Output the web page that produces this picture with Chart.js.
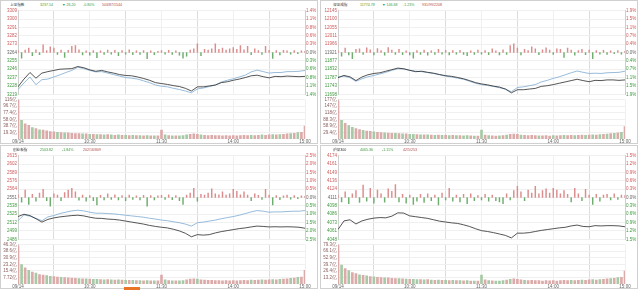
<!DOCTYPE html>
<html>
<head>
<meta charset="utf-8">
<script src="https://cdn.jsdelivr.net/npm/chart.js@4.4.1/dist/chart.umd.min.js"></script>
<style>
  body { margin: 0; width: 640px; height: 290px; overflow: hidden; position: relative; background: #fff;
         font-family: "Liberation Sans", "Noto Sans CJK SC", sans-serif; }
  .panel { position: absolute; width: 318px; height: 144px; box-shadow: inset 0 0 0 1px #d0d0d0; }
  .panel canvas { position: absolute; left: 0; }
  .head { position: absolute; top: 2px; left: 0; width: 318px; height: 6px; font-size: 3.6px; line-height: 6px; white-space: nowrap; }
  .head span { position: absolute; top: 0; }
  .mark { position: absolute; left: 124px; top: 287px; width: 16px; height: 3px; background: #e8742a; z-index: 5; }
</style>
</head>
<body>
<script>
const timeLabels = ['09/14', '10:30', '11:30', '14:00', '15:00'];
const gridMinutes = [0, 30, 60, 90, 120, 150, 180, 210, 240];

// 上证指数 (lines: % change, every 5 min; flow and volume: every 3 min)
const shPrevClose = 3263.74;
const shRange = 1.4;
const shIndex = [-1.15, -0.89, -0.67, -0.86, -0.69, -0.64, -0.60, -0.56, -0.55, -0.54,
  -0.47, -0.51, -0.58, -0.63, -0.60, -0.65, -0.69, -0.74, -0.77, -0.78,
  -0.82, -0.87, -0.93, -1.01, -1.04, -1.07, -1.11, -1.14, -1.20, -1.29,
  -1.15, -1.15, -1.12, -1.09, -1.01, -0.98, -0.93, -0.89, -0.84, -0.78,
  -0.76, -0.81, -0.85, -0.80, -0.81, -0.79, -0.80, -0.81, -0.80];
const shEqual = [-1.24, -1.02, -0.82, -1.08, -0.91, -0.89, -0.82, -0.75, -0.67, -0.60,
  -0.49, -0.54, -0.60, -0.65, -0.64, -0.69, -0.74, -0.79, -0.84, -0.86,
  -0.89, -0.95, -1.01, -1.09, -1.13, -1.15, -1.20, -1.24, -1.29, -1.35,
  -1.22, -1.19, -1.14, -1.09, -0.99, -0.93, -0.88, -0.82, -0.76, -0.65,
  -0.59, -0.64, -0.69, -0.67, -0.67, -0.64, -0.64, -0.63, -0.60];
const shFlow = [6, -18, 8, 14, -10, 9, -7, 25, 6, 18, 14, -6, 8, -16, 7, 20, 22, 9, -8, 5,
  -9, 6, -17, 5, -6, 8, -5, 7, -10, 6, -5, 9, -7, 5, -6, 6, -20, 5, -7, 4,
  6, -5, 7, -6, 5, -9, -18, -12, 8, 12, 28, -10, 10, 8, 12, 28, 10, 14, 8, 12,
  16, 10, 22, 9, 20, -7, 12, 6, -6, 20, 7, -19, 6, -8, 7, 5, -5, 6, -4, 5, 4];
const shVolume = [115, 55, 45, 40, 34, 31, 27, 26, 24, 22, 21, 20, 19, 18, 18, 17, 16, 16, 15, 15,
  14, 14, 13, 13, 12, 13, 12, 11, 12, 11, 11, 10, 11, 10, 10, 9, 10, 9, 9, 9,
  26, 12, 10, 9, 9, 9, 10, 12, 14, 15, 14, 12, 11, 10, 11, 10, 10, 9, 10, 9,
  10, 9, 10, 11, 10, 11, 10, 11, 12, 11, 12, 13, 12, 13, 14, 15, 16, 17, 19, 20, 38];
const shPriceTicks = ['3309', '3300', '3291', '3282', '3273', '3264', '3255', '3246', '3237', '3228', '3219'];
const shPctTicks = ['1.4%', '1.1%', '0.8%', '0.6%', '0.3%', '0.0%', '0.3%', '0.6%', '0.8%', '1.1%', '1.4%'];
const shVolMax = 116;
const shVolTicks = ['116亿', '96.7亿', '77.4亿', '58.0亿', '38.7亿', '19.3亿'];

// 深证成指
const szPrevClose = 11921.46;
const szRange = 1.875;
const szIndex = [-1.13, -1.03, -1.09, -1.26, -1.10, -1.00, -0.94, -0.91, -0.84, -0.77,
  -0.70, -0.73, -0.80, -0.86, -0.84, -0.89, -0.93, -0.99, -1.04, -1.07,
  -1.12, -1.18, -1.26, -1.35, -1.41, -1.45, -1.51, -1.55, -1.64, -1.81,
  -1.67, -1.67, -1.64, -1.61, -1.52, -1.49, -1.44, -1.38, -1.32, -1.26,
  -1.20, -1.26, -1.31, -1.25, -1.26, -1.23, -1.23, -1.25, -1.23];
const szEqual = [-1.09, -1.06, -1.13, -1.29, -1.18, -1.09, -1.03, -0.96, -0.89, -0.80,
  -0.73, -0.74, -0.80, -0.84, -0.86, -0.90, -0.94, -1.00, -1.06, -1.10,
  -1.15, -1.20, -1.29, -1.38, -1.44, -1.48, -1.52, -1.58, -1.64, -1.76,
  -1.57, -1.54, -1.49, -1.44, -1.32, -1.25, -1.16, -1.09, -1.00, -0.91,
  -0.83, -0.89, -0.94, -0.93, -0.94, -0.91, -0.90, -0.89, -0.84];
const szFlow = [5, -12, 14, -8, -20, 10, 12, -6, 15, 9, -8, 13, 6, -9, 16, 8, -6, 10, -7, 5,
  -8, -18, 6, -6, 8, -9, 5, -6, 10, -5, 7, -8, 6, -5, 7, -6, -10, 5, -6, 8,
  -5, 6, -7, 12, 5, -8, 9, -6, 22, 28, 14, -8, 10, 6, 18, 12, -7, 9, 15, 8,
  -6, 12, 10, -16, 14, 8, -9, 6, 10, -7, 8, -20, 6, -5, 7, -6, 5, -4, 6, -5, 4];
const szVolume = [172, 84, 70, 60, 52, 47, 42, 39, 36, 34, 32, 30, 29, 28, 27, 26, 25, 24, 23, 23,
  21, 21, 20, 19, 19, 19, 18, 17, 18, 16, 16, 15, 16, 15, 15, 14, 15, 14, 13, 13,
  40, 18, 15, 14, 13, 14, 15, 18, 21, 22, 21, 18, 17, 15, 16, 15, 14, 14, 15, 13,
  15, 14, 15, 16, 15, 16, 15, 17, 18, 17, 18, 19, 18, 20, 21, 22, 24, 26, 28, 30, 56];
const szPriceTicks = ['12145', '12100', '12055', '12011', '11966', '11921', '11877', '11832', '11787', '11743', '11698'];
const szPctTicks = ['1.9%', '1.5%', '1.1%', '0.7%', '0.4%', '0.0%', '0.4%', '0.7%', '1.1%', '1.5%', '1.9%'];
const szVolMax = 176.6;
const szVolTicks = ['177亿', '147亿', '118亿', '88.3亿', '58.9亿', '29.4亿'];

// 创业板指
const cyPrevClose = 2550.7;
const cyRange = 2.5;
const cyIndex = [-1.14, -1.00, -1.08, -1.27, -1.47, -1.31, -1.22, -1.16, -1.12, -1.08,
  -1.06, -1.10, -1.18, -1.24, -1.25, -1.29, -1.31, -1.35, -1.41, -1.47,
  -1.53, -1.59, -1.67, -1.73, -1.78, -1.82, -1.90, -2.00, -2.14, -2.35,
  -2.22, -2.25, -2.22, -2.12, -2.04, -1.98, -1.92, -1.86, -1.82, -1.76,
  -1.71, -1.73, -1.76, -1.75, -1.76, -1.75, -1.76, -1.78, -1.84];
const cyEqual = [-1.39, -1.04, -1.12, -1.24, -1.39, -1.16, -1.08, -0.96, -0.88, -0.80,
  -0.76, -0.80, -0.88, -0.94, -0.94, -0.96, -0.98, -1.02, -1.06, -1.10,
  -1.14, -1.18, -1.24, -1.29, -1.35, -1.39, -1.45, -1.51, -1.59, -1.71,
  -1.51, -1.47, -1.41, -1.35, -1.27, -1.20, -1.14, -1.06, -0.96, -0.86,
  -0.78, -0.82, -0.88, -0.86, -0.86, -0.84, -0.82, -0.82, -0.78];
const cyFlow = [8, -15, 24, -22, 10, -12, 14, 26, -10, -28, 12, 8, -10, 16, 24, 30, 18, -9, 8, -12,
  6, -10, -24, 7, -8, 12, -6, 9, -8, 6, -10, 8, -6, 5, -8, 7, -28, 6, -8, 5,
  7, -6, 9, -7, 6, -10, -22, 8, 14, 30, -12, 10, 8, 14, 28, 12, 9, 18, 8, 12,
  26, 20, 9, 18, 8, -10, 12, 7, -6, 26, 8, -24, 6, -7, 5, 8, -5, 6, -4, 5, 4];
const cyVolume = [45, 23, 19, 16, 14, 13, 11, 10.5, 10, 9, 8.6, 8.2, 7.8, 7.5, 7.2, 7, 6.6, 6.5, 6.2, 6,
  5.8, 5.6, 5.4, 5.3, 5, 5.2, 4.9, 4.6, 4.8, 4.5, 4.4, 4.2, 4.4, 4.1, 4, 3.8, 4, 3.7, 3.6, 3.6,
  10.5, 5, 4.1, 3.8, 3.6, 3.7, 4.1, 5, 5.8, 6.1, 5.7, 5, 4.5, 4.2, 4.4, 4.1, 4, 3.8, 4, 3.7,
  4.1, 3.8, 4, 4.4, 4.1, 4.5, 4.2, 4.6, 5, 4.6, 5, 5.3, 5, 5.4, 5.8, 6.2, 6.6, 7, 7.8, 8.2, 16];
const cyPriceTicks = ['2615', '2602', '2589', '2576', '2564', '2551', '2538', '2525', '2512', '2499', '2486'];
const cyPctTicks = ['2.5%', '2.0%', '1.5%', '1.0%', '0.5%', '0.0%', '0.5%', '1.0%', '1.5%', '2.0%', '2.5%'];
const cyVolMax = 46.3;
const cyVolTicks = ['46.3亿', '38.6亿', '30.9亿', '23.2亿', '15.4亿', '7.72亿'];

// 沪深300
const hsPrevClose = 4111;
const hsRange = 1.5;
const hsIndex = [-1.15, -0.84, -0.80, -0.95, -0.84, -0.78, -0.74, -0.72, -0.73, -0.67,
  -0.55, -0.56, -0.66, -0.69, -0.72, -0.75, -0.80, -0.85, -0.88, -0.91,
  -0.93, -0.98, -1.04, -1.12, -1.19, -1.22, -1.26, -1.31, -1.36, -1.45,
  -1.28, -1.28, -1.26, -1.22, -1.18, -1.15, -1.12, -1.09, -1.07, -1.02,
  -0.99, -1.04, -1.05, -1.01, -1.02, -1.01, -1.01, -1.02, -1.05];
const hsFlow = [6, -14, 18, -20, 12, 22, -16, 40, -12, 30, -18, 24, 12, -15, 28, 20, 42, -14, 10, -18,
  8, -22, -12, 10, -16, 12, -10, 8, -24, 14, -8, 30, -12, 8, -14, 10, -20, 12, -10, 6,
  -8, 10, -12, 8, -10, -14, -20, 12, -8, 22, 36, 18, -10, 24, 14, 36, 12, 22, 28, 14,
  30, 24, 12, 22, 10, -14, 30, 12, -10, 26, 8, -22, 10, -12, 8, 10, -8, 12, -6, 8, 6];
const hsVolume = [78, 38, 31, 27, 23, 21, 18.5, 17.5, 16.5, 15, 14.4, 13.6, 13, 12.4, 12.2, 11.6, 11, 10.8, 10.2, 10,
  9.6, 9.4, 8.9, 8.8, 8.2, 8.8, 8.1, 7.6, 8.1, 7.5, 7.4, 6.9, 7.4, 6.8, 6.7, 6.2, 6.8, 6.1, 6, 6.1,
  18, 8.2, 6.8, 6.2, 6, 6.1, 6.8, 8.1, 9.5, 10.2, 9.5, 8.2, 7.5, 6.8, 7.4, 6.8, 6.7, 6.1, 6.8, 6.2,
  6.8, 6.1, 6.8, 7.4, 6.8, 7.5, 6.8, 7.5, 8.1, 7.4, 8.2, 8.8, 8.1, 8.9, 9.5, 10.2, 10.8, 11.6, 12.9, 13.6, 26];
const hsPriceTicks = ['4174', '4161', '4149', '4136', '4124', '4111', '4098', '4086', '4073', '4061', '4048'];
const hsPctTicks = ['1.5%', '1.2%', '0.9%', '0.6%', '0.3%', '0.0%', '0.3%', '0.6%', '0.9%', '1.2%', '1.5%'];
const hsVolMax = 79.3;
const hsVolTicks = ['79.3亿', '66.1亿', '52.9亿', '39.7亿', '26.4亿', '13.2亿'];

const red = '#cf5a5a', green = '#3e9a3e', grey = '#666';
const spikeRed = '#dc8c8c', spikeGreen = '#6fae6f';
const tickFont = { family: 'Liberation Sans', size: 4.5 };

const panels = [
  { left: 0, top: 0, prev: shPrevClose, range: shRange, index: shIndex, equal: shEqual, flow: shFlow,
    volume: shVolume, priceTicks: shPriceTicks, pctTicks: shPctTicks, volMax: shVolMax, volTicks: shVolTicks,
    head: [['上证指数', 10, '#333'], ['3237.54', 40, green], ['▼ 26.20', 62, green], ['-0.80%', 83, green], ['503/87/1544', 102, '#b04a4a']] },
  { left: 320, top: 0, prev: szPrevClose, range: szRange, index: szIndex, equal: szEqual, flow: szFlow,
    volume: szVolume, priceTicks: szPriceTicks, pctTicks: szPctTicks, volMax: szVolMax, volTicks: szVolTicks,
    head: [['深证成指', 13, '#333'], ['11774.78', 40, green], ['▼ 146.68', 62, green], ['-1.23%', 83, green], ['931/99/2208', 102, '#b04a4a']] },
  { left: 0, top: 145, prev: cyPrevClose, range: cyRange, index: cyIndex, equal: cyEqual, flow: cyFlow,
    volume: cyVolume, priceTicks: cyPriceTicks, pctTicks: cyPctTicks, volMax: cyVolMax, volTicks: cyVolTicks,
    head: [['创业板指', 13, '#333'], ['2503.82', 40, green], ['-1.84%', 62, green], ['202/16/809', 83, '#b04a4a']] },
  { left: 320, top: 145, prev: hsPrevClose, range: hsRange, index: hsIndex, equal: null, flow: hsFlow,
    volume: hsVolume, priceTicks: hsPriceTicks, pctTicks: hsPctTicks, volMax: hsVolMax, volTicks: hsVolTicks,
    head: [['沪深300', 13, '#333'], ['4065.36', 40, green], ['-1.11%', 62, green], ['42/5/253', 83, '#b04a4a']] }
];

// ticks spread evenly from max down to min, one per label
function evenTicks(count) {
  return scale => {
    const step = (scale.max - scale.min) / (count - 1);
    scale.ticks = Array.from({ length: count }, (_, i) => ({ value: scale.max - i * step }));
  };
}
function sideColor(ctx) {
  if (ctx.index < 5) return red;
  if (ctx.index === 5) return grey;
  return green;
}
const timeTicks = scale => { scale.ticks = gridMinutes.map(v => ({ value: v })); };
const xGridColor = ctx => (ctx.tick && ctx.tick.value % 60 === 0 ? '#f0f0f0' : '#dcdcdc');

function makeCanvas(box, top, height) {
  const c = document.createElement('canvas');
  c.width = 318; c.height = height;
  c.style.width = '318px'; c.style.height = height + 'px'; c.style.top = top + 'px';
  box.appendChild(c);
  return c;
}

function buildPanel(p) {
  const box = document.createElement('div');
  box.className = 'panel';
  box.style.left = p.left + 'px';
  box.style.top = p.top + 'px';
  document.body.appendChild(box);

  const head = document.createElement('div');
  head.className = 'head';
  p.head.forEach(([text, x, color]) => {
    const s = document.createElement('span');
    s.textContent = text;
    s.style.left = x + 'px';
    s.style.color = color;
    head.appendChild(s);
  });
  box.appendChild(head);

  const datasets = [
    { data: p.index.map((v, i) => ({ x: i * 5, y: v })), yAxisID: 'yp', borderColor: '#2a2a2a', borderWidth: 0.8, pointRadius: 0 }
  ];
  if (p.equal) {
    datasets.push({ data: p.equal.map((v, i) => ({ x: i * 5, y: v })), yAxisID: 'yp', borderColor: '#7eaad0', borderWidth: 0.8, pointRadius: 0 });
  }
  datasets.push({
    type: 'bar', data: p.flow.map((v, i) => ({ x: i * 3, y: v })), yAxisID: 'ys', barThickness: 0.8,
    backgroundColor: ctx => (ctx.raw && ctx.raw.y >= 0 ? spikeRed : spikeGreen)
  });

  new Chart(makeCanvas(box, 7, 91), {
    type: 'line',
    data: { datasets },
    options: {
      responsive: false, animation: false, devicePixelRatio: 1,
      layout: { padding: { top: 3, bottom: 3, left: 0, right: 0 } },
      plugins: { legend: { display: false }, tooltip: { enabled: false } },
      scales: {
        x: {
          type: 'linear', min: 0, max: 240, offset: false,
          afterBuildTicks: timeTicks, afterFit: s => { s.height = 0; },
          ticks: { display: false }, grid: { color: xGridColor, drawTicks: false, offset: false }, border: { display: false }
        },
        y: {
          position: 'left', min: p.prev * (1 - p.range / 100), max: p.prev * (1 + p.range / 100),
          afterBuildTicks: evenTicks(p.priceTicks.length), afterFit: s => { s.width = 18; },
          ticks: { autoSkip: false, font: tickFont, padding: 1, color: sideColor, callback: (v, i) => p.priceTicks[i] },
          grid: { color: '#f0f0f0', drawTicks: false }, border: { color: '#cfcfcf' }
        },
        yp: {
          position: 'right', min: -p.range, max: p.range,
          afterBuildTicks: evenTicks(p.pctTicks.length), afterFit: s => { s.width = 13; },
          ticks: { autoSkip: false, font: tickFont, padding: 1, color: sideColor, callback: (v, i) => p.pctTicks[i] },
          grid: { display: false, drawTicks: false }, border: { color: '#cfcfcf' }
        },
        ys: { display: false, min: -135, max: 135 }
      }
    }
  });

  new Chart(makeCanvas(box, 96, 48), {
    type: 'bar',
    data: {
      datasets: [{
        data: p.volume.map((v, i) => ({ x: i * 3, y: v })), barThickness: 2,
        backgroundColor: ctx => (p.flow[ctx.dataIndex] >= 0 ? '#ddaaaa' : '#a6c9a6')
      }]
    },
    options: {
      responsive: false, animation: false, devicePixelRatio: 1,
      layout: { padding: { top: 3, bottom: 0, left: 0, right: 13 } },
      plugins: { legend: { display: false }, tooltip: { enabled: false } },
      scales: {
        x: {
          type: 'linear', min: 0, max: 240, offset: false,
          afterBuildTicks: timeTicks, afterFit: s => { s.height = 5; },
          ticks: { autoSkip: false, maxRotation: 0, padding: 0, font: tickFont, color: grey,
                   callback: v => (v % 60 === 0 ? timeLabels[v / 60] : '') },
          grid: { color: xGridColor, drawTicks: false, offset: false }, border: { display: false }
        },
        y: {
          min: 0, max: p.volMax,
          afterBuildTicks: scale => {
            const n = p.volTicks.length;
            scale.ticks = p.volTicks.map((_, i) => ({ value: scale.max * (n - i) / n }));
          },
          afterFit: s => { s.width = 18; },
          ticks: { autoSkip: false, font: tickFont, padding: 1, color: '#8a5c5c', callback: (v, i) => p.volTicks[i] },
          grid: { color: '#f0f0f0', drawTicks: false }, border: { color: '#cfcfcf' }
        }
      }
    }
  });
}

panels.forEach(buildPanel);

const mark = document.createElement('div');
mark.className = 'mark';
document.body.appendChild(mark);
</script>
</body>
</html>
